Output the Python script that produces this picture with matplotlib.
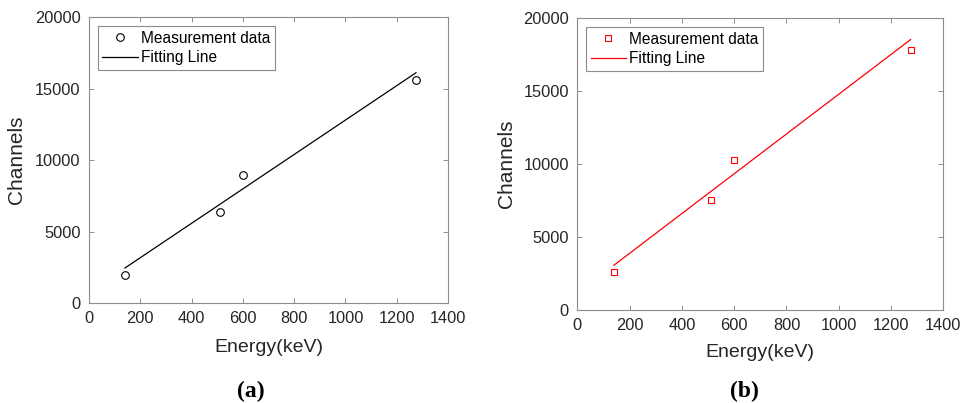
import matplotlib.pyplot as plt

# Energy (keV) of the calibration peaks
energy = [140, 511, 600, 1275]

# (a) measured channels and fitted line end points
channels_a = [1950, 6400, 8950, 15600]
fit_x_a = [140, 1275]
fit_y_a = [2450, 16120]

# (b) measured channels and fitted line end points
channels_b = [2600, 7550, 10250, 17850]
fit_x_b = [140, 1275]
fit_y_b = [3040, 18540]

xticks = [0, 200, 400, 600, 800, 1000, 1200, 1400]
yticks = [0, 5000, 10000, 15000, 20000]

plt.rcParams['font.family'] = ['Liberation Sans', 'DejaVu Sans']

fig = plt.figure(figsize=(9.75, 4.03), dpi=100)
ax1 = fig.add_axes([0.0913, 0.2481, 0.3682, 0.7089])
ax2 = fig.add_axes([0.5921, 0.2320, 0.3754, 0.7226])


def style_axes(ax, ylab_x, xlab_y):
    ax.set_xlim(0, 1400)
    ax.set_ylim(0, 20000)
    ax.set_xticks(xticks)
    ax.set_yticks(yticks)
    for s in ax.spines.values():
        s.set_color('#8c8c8c')
        s.set_linewidth(0.8)
    ax.tick_params(direction='in', top=True, right=True, length=3.5,
                   width=0.7, color='#8c8c8c', labelsize=11.8,
                   labelcolor='#262626', pad=6)
    ax.set_xlabel('Energy(keV)', fontsize=14, color='#262626')
    ax.set_ylabel('Channels', fontsize=15, color='#262626')
    ax.yaxis.set_label_coords(ylab_x, 0.5)
    ax.xaxis.set_label_coords(0.5, xlab_y)
    leg = ax.legend(loc='upper left', bbox_to_anchor=(0.0, 1.0),
                    borderaxespad=0.55, fontsize=11.2, fancybox=False,
                    edgecolor='#8c8c8c', framealpha=1, borderpad=0.3,
                    labelspacing=0.3, handlelength=2.3, handletextpad=0.2)
    leg.get_frame().set_linewidth(0.8)


# (a)
ax1.plot(energy, channels_a, 'o', mfc='none', mec='black', ms=5.5, mew=0.8,
         label='Measurement data')
ax1.plot(fit_x_a, fit_y_a, '-', color='black', lw=0.9, label='Fitting Line')
style_axes(ax1, -0.175, -0.125)

# (b)
ax2.plot(energy, channels_b, 's', mfc='none', mec='red', ms=4.5, mew=0.8,
         label='Measurement data')
ax2.plot(fit_x_b, fit_y_b, '-', color='red', lw=0.9, label='Fitting Line')
style_axes(ax2, -0.167, -0.12)

fig.text(251 / 975, 1 - 391 / 403, '(a)', ha='center', va='center',
         fontsize=17, fontweight='bold', family='Liberation Serif')
fig.text(744 / 975, 1 - 391 / 403, '(b)', ha='center', va='center',
         fontsize=17, fontweight='bold', family='Liberation Serif')

fig.savefig('out.png', dpi=100)
